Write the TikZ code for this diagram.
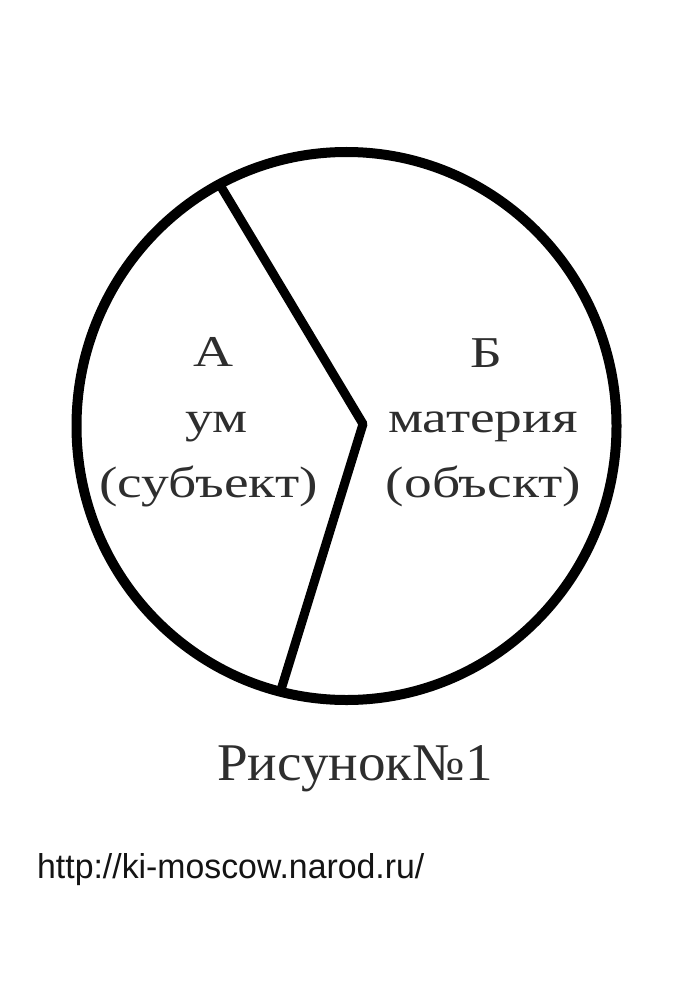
\documentclass[tikz,border=0pt]{standalone}
\usepackage{fontspec}
\usetikzlibrary{shapes.geometric}
\setmainfont{Liberation Serif}
\newfontfamily\urlfont{Liberation Sans}
\begin{document}
\begin{tikzpicture}[x=1pt,y=-1pt,
  lbl/.style={inner sep=0pt,anchor=base,text=black!82,xscale=1.26,font=\fontsize{44}{48}\selectfont},
  caplbl/.style={inner sep=0pt,anchor=base,text=black!82,xscale=1.04,font=\fontsize{53}{58}\selectfont},
  thick line/.style={line width=9pt,line join=round}]
\useasboundingbox (0,0) rectangle (693,1000);
\fill[white] (0,0) rectangle (693,1000);
\node[draw,ellipse,line width=10pt,minimum width=540pt,minimum height=548pt,inner sep=0pt] (c) at (346.5,426) {};
\coordinate (t) at (220,185);
\coordinate (k) at (363,424);
\coordinate (b) at (280,693);
\draw[thick line] (t) -- (k) -- (b);
\node[lbl] (a1) at (214,366) {А};
\node[lbl] (a2) at (217,432) {ум};
\node[lbl] (a3) at (208.5,497) {(субъект)};
\node[lbl] (b1) at (486.5,367) {Б};
\node[lbl] (b2) at (483,432) {материя};
\node[lbl] (b3) at (483.5,497) {(объскт)};
\node[caplbl] (cap) at (355,780) {Рисунок№1};
\node[inner sep=0pt,anchor=base west,text=black!92,xscale=0.98,font=\urlfont\fontsize{34.5}{38}\selectfont] (url) at (37,878) {http://ki-moscow.narod.ru/};
\end{tikzpicture}
\end{document}
